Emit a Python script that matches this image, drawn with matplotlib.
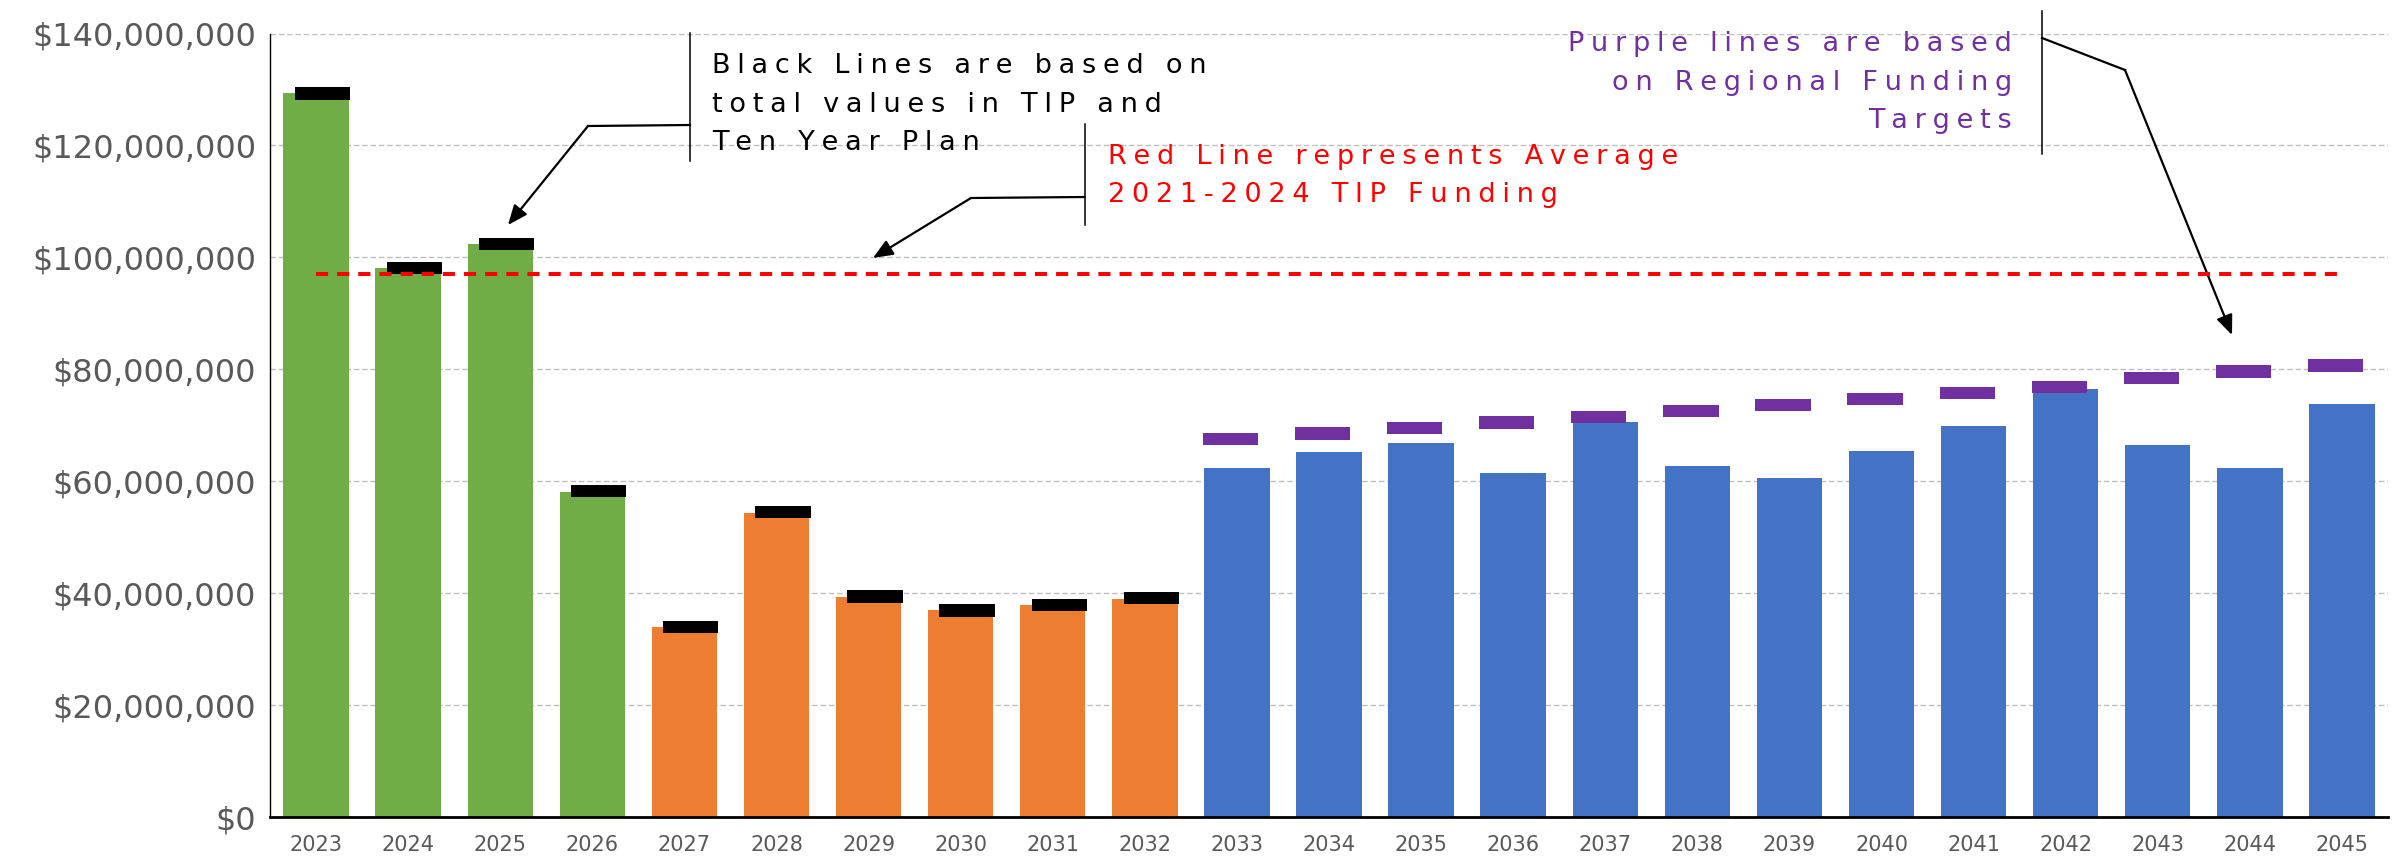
import matplotlib
matplotlib.use('Agg')
import matplotlib.pyplot as plt
from matplotlib.lines import Line2D
from matplotlib.ticker import StrMethodFormatter
import numpy as np

# funding per year, in millions of dollars
tip_years = ['2023', '2024', '2025', '2026']
tip_funding = [129.3, 98.1, 102.3, 58.1]

ten_year_years = ['2027', '2028', '2029', '2030', '2031', '2032']
ten_year_funding = [33.9, 54.4, 39.4, 36.9, 37.9, 39.0]

lrtp_years = ['2033', '2034', '2035', '2036', '2037', '2038', '2039',
              '2040', '2041', '2042', '2043', '2044', '2045']
lrtp_funding = [62.4, 65.2, 66.8, 61.4, 70.5, 62.7, 60.6,
                65.4, 69.9, 76.4, 66.5, 62.3, 73.8]

# black lines: total values in TIP and Ten Year Plan (2023-2032)
plan_totals = [129.3, 98.1, 102.4, 58.2, 33.9, 54.5, 39.4, 36.9, 37.9, 39.1]
# purple lines: regional funding targets (2033-2045)
regional_targets = [67.5, 68.5, 69.5, 70.5, 71.5, 72.5, 73.6,
                    74.7, 75.8, 76.8, 78.4, 79.6, 80.7]

avg_tip_funding = 97.0  # average 2021-2024 TIP funding

GREEN = '#70AD47'
ORANGE = '#ED7D31'
BLUE = '#4472C4'
PURPLE = '#7030A0'
RED = '#FF0000'
GREY = '#595959'

W, H = 2399, 865


def fig_xy(px, py):
    # pixel position (top-left origin) -> figure fraction
    return px / W, 1 - py / H


def spaced(s):
    # fake the wide letter spacing of the original text boxes
    return '\u2005'.join(s)


def note(lines, x, baselines, color, ha='left'):
    for line, y in zip(lines, baselines):
        fig.text(*fig_xy(x, y), spaced(line), color=color, fontsize=19.5,
                 ha=ha, va='baseline')


def callout(vline, leader, head):
    (vx, vy0, vy1) = vline
    fig.add_artist(Line2D([vx / W, vx / W], [1 - vy0 / H, 1 - vy1 / H],
                          color='black', lw=1.1))
    (x0, y0), (x1, y1) = leader
    fig.add_artist(Line2D([x0 / W, x1 / W], [1 - y0 / H, 1 - y1 / H],
                          color='black', lw=1.6))
    ax.annotate('', xy=fig_xy(*head), xycoords='figure fraction',
                xytext=fig_xy(x1, y1), textcoords='figure fraction',
                annotation_clip=False,
                arrowprops=dict(arrowstyle='-|>,head_length=0.6,head_width=0.25',
                                color='black', lw=1.6, shrinkA=0, shrinkB=0,
                                mutation_scale=20))


fig = plt.figure(figsize=(W / 100, H / 100), dpi=100)
ax = fig.add_axes([270 / W, 48 / H, (2388 - 270) / W, (817 - 33.5) / H])

years = tip_years + ten_year_years + lrtp_years
x_all = np.arange(len(years))
x_tip = x_all[:len(tip_years)]
x_ten = x_all[len(tip_years):len(tip_years) + len(ten_year_years)]
x_lrtp = x_all[len(tip_years) + len(ten_year_years):]
x_plan = x_all[:len(plan_totals)]

M = 1e6
ax.bar(x_tip, np.array(tip_funding) * M, width=0.71, color=GREEN, zorder=2)
ax.bar(x_ten, np.array(ten_year_funding) * M, width=0.71, color=ORANGE, zorder=2)
ax.bar(x_lrtp, np.array(lrtp_funding) * M, width=0.71, color=BLUE, zorder=2)

mark_h = 2.2 * M
ax.bar(x_plan + 0.07, mark_h, bottom=np.array(plan_totals) * M - mark_h / 2,
       width=0.6, color='black', zorder=3)
ax.bar(x_lrtp - 0.07, mark_h, bottom=np.array(regional_targets) * M - mark_h / 2,
       width=0.6, color=PURPLE, zorder=3)

ax.plot(x_all, np.full(len(x_all), avg_tip_funding * M), color=RED, lw=2.9,
        linestyle=(0, (3, 2.25)), zorder=4)

ax.set_xlim(-0.5, len(years) - 0.5)
ax.set_ylim(0, 140 * M)
ax.set_yticks(np.arange(0, 141, 20) * M)
ax.yaxis.set_major_formatter(StrMethodFormatter('${x:,.0f}'))
ax.set_xticks(x_all, years)
ax.tick_params(axis='y', length=0, pad=10, labelsize=23, labelcolor=GREY)
ax.tick_params(axis='x', length=0, pad=13, labelsize=15, labelcolor=GREY)

ax.yaxis.grid(True, color='#BFBFBF', linestyle=(0, (4, 2)), linewidth=1)
ax.set_axisbelow(True)
for side in ['top', 'right']:
    ax.spines[side].set_visible(False)
ax.spines['left'].set_linewidth(1)
ax.spines['bottom'].set_linewidth(2)

note(['Black Lines are based on', 'total values in TIP and', 'Ten Year Plan'],
     712, [73, 111.5, 150], 'black')
note(['Red Line represents Average', '2021-2024 TIP Funding'],
     1108, [164, 202.5], RED)
note(['Purple lines are based', 'on Regional Funding', 'Targets'],
     2012, [51, 89.5, 128], PURPLE, ha='right')

callout((690, 33, 161), ((690, 125), (588, 126)), (508, 225))
callout((1084.5, 124, 225), ((1084.5, 197), (971, 198)), (873, 258))
callout((2042, 11, 154), ((2042, 38), (2125, 70)), (2232, 335))

fig.savefig('out.png', dpi=100)
